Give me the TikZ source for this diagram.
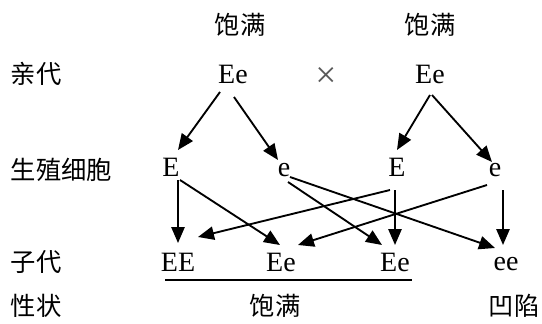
\documentclass[tikz,border=0pt]{standalone}
\usepackage{fontspec}
\setmainfont{Liberation Serif}
\newfontfamily\cjk{Noto Sans CJK SC}
\usetikzlibrary{arrows.meta}
\newcommand{\rowlabel}[3]{\node[lbl] (#1) at (10,#2) {#3};}

\begin{document}
\begin{tikzpicture}[x=0.75pt,y=-0.75pt,line width=1.4pt,
  lbl/.style={anchor=west,inner sep=0pt,font=\cjk\fontsize{19}{22}\selectfont},
  gene/.style={inner sep=0pt,font=\fontsize{21}{24}\selectfont},
  arr/.style={-{Triangle[length=12pt,width=10pt]}}]
\useasboundingbox (0,0) rectangle (542,324);

% row labels
\rowlabel{lP}{74}{亲代}
\rowlabel{lG}{170}{生殖细胞}
\rowlabel{lF}{262}{子代}
\rowlabel{lT}{306}{性状}

% phenotypes of parents
\node[lbl,anchor=center] (tL) at (240,25) {饱满};
\node[lbl,anchor=center] (tR) at (430,25) {饱满};

% parents
\node[gene] (pL) at (233,74) {Ee};
\node[gene] (pR) at (430,74) {Ee};
\node[inner sep=0pt,text=black!65,font=\fontsize{28}{30}\selectfont] (x) at (326,77) {×};

% gametes
\node[gene] (gEL) at (171,167) {E};
\node[gene] (geL) at (284,170) {e};
\node[gene] (gER) at (397,167) {E};
\node[gene] (geR) at (495,170) {e};

% offspring
\node[gene] (oEE) at (178,262) {EE};
\node[gene] (oEe1) at (281,262) {Ee};
\node[gene] (oEe2) at (395,262) {Ee};
\node[gene] (oee) at (506,264) {ee};

% phenotypes of offspring
\node[lbl,anchor=center] (bL) at (275,306) {饱满};
\node[lbl,anchor=center] (bR) at (514,306) {凹陷};

% parents -> gametes
\draw[arr] ([shift={(-13,18)}]pL.center) -- ([shift={(7,-17)}]gEL.center);
\draw[arr] ([shift={(1,23)}]pL.center) -- ([shift={(-6,-10)}]geL.center);
\draw[arr] ([shift={(0,21)}]pR.center) -- ([shift={(0,-17)}]gER.center);
\draw[arr] ([shift={(2,21)}]pR.center) -- ([shift={(-3,-8)}]geR.center);

% gametes -> offspring
\draw[arr] ([shift={(7,13)}]gEL.center) -- ([shift={(0,-19)}]oEE.center);
\draw[arr] ([shift={(9,13)}]gEL.center) -- ([shift={(-1,-17)}]oEe1.center);
\draw[arr] ([shift={(4,12)}]geL.center) -- ([shift={(-13,-17)}]oEe2.center);
\draw[arr] ([shift={(6,7)}]geL.center) -- ([shift={(-11,-16)}]oee.center);
\draw[arr] ([shift={(-7,23)}]gER.center) -- ([shift={(20,-25)}]oEE.center);
\draw[arr] ([shift={(-2,23)}]gER.center) -- ([shift={(0,-17)}]oEe2.center);
\draw[arr] ([shift={(-8,15)}]geR.center) -- ([shift={(17,-17)}]oEe1.center);
\draw[arr] ([shift={(8,20)}]geR.center) -- ([shift={(-3,-19)}]oee.center);

% underline of the full-seed offspring
\draw ([shift={(-13,18)}]oEE.center) -- ([shift={(17,18)}]oEe2.center);
\end{tikzpicture}
\end{document}
